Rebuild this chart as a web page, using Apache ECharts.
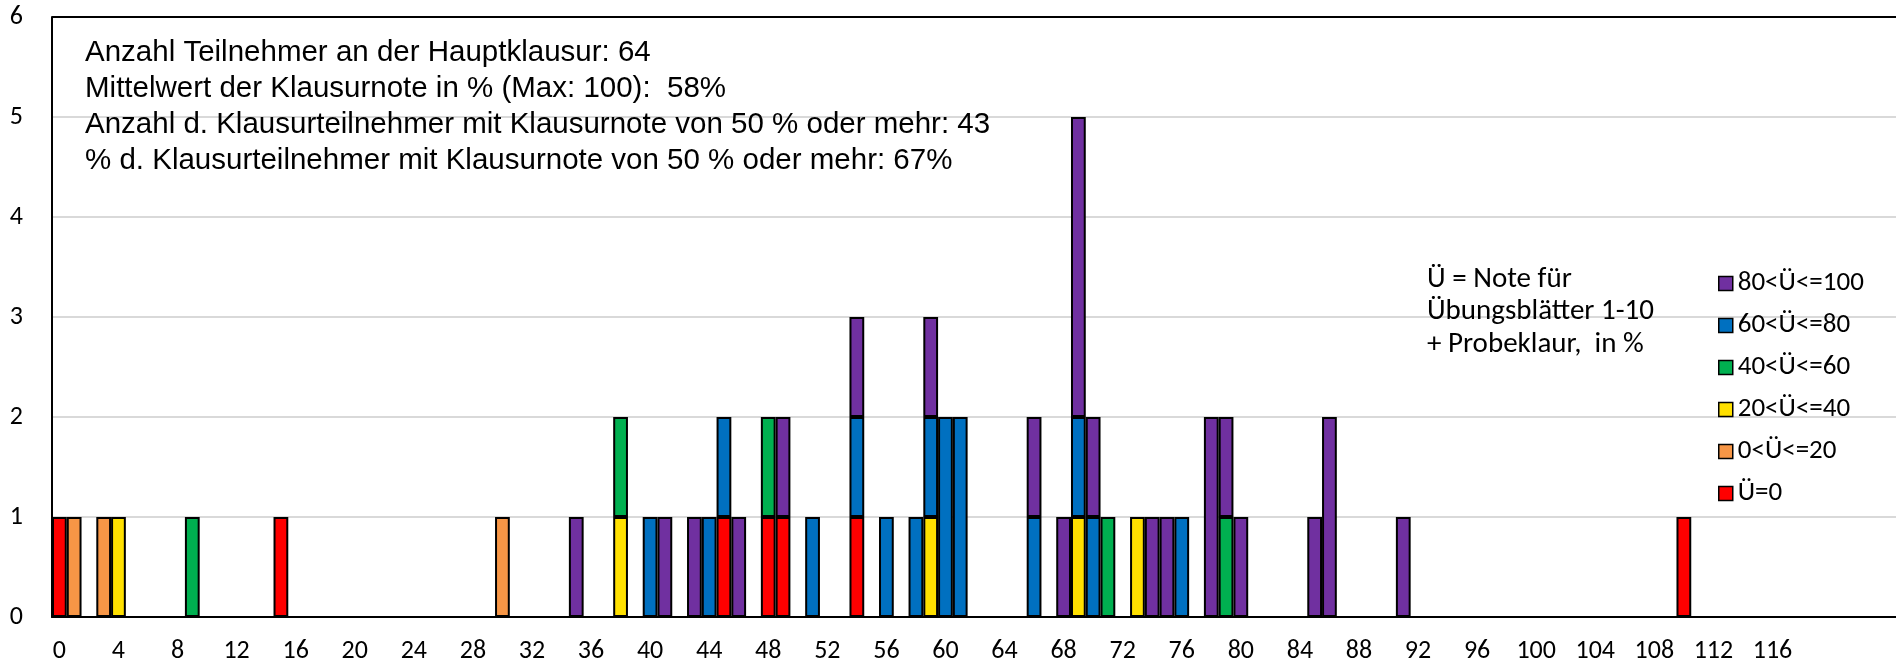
<!DOCTYPE html>
<html>
<head>
<meta charset="utf-8">
<script src="https://cdn.jsdelivr.net/npm/echarts@6/dist/echarts.min.js"></script>
<style>
html,body{margin:0;padding:0;background:#fff;}
#chart{width:1896px;height:670px;}
</style>
</head>
<body>
<div id="chart"></div>
<script>
// ---- data ----
const categoryCount = 125;            // x categories 0..124
const tickLabels = ["0","4","8","12","16","20","24","28","32","36","40","44","48","52","56","60","64","68","72","76","80","84","88","92","96","100","104","108","112","116"];
const yTicks = [0,1,2,3,4,5,6];

const seriesNames = ["Ü=0","0<Ü<=20","20<Ü<=40","40<Ü<=60","60<Ü<=80","80<Ü<=100"];
const seriesColors = ["#FF0000","#F79646","#FFE000","#00B050","#0070C0","#7030A0"];

// positions (x category) and counts for each series
const ue0_x   = [0,15,45,48,49,54,110];
const ue0_n   = [1,1,1,1,1,1,1];
const ue20_x  = [1,3,30];
const ue20_n  = [1,1,1];
const ue40_x  = [4,38,59,69,73];
const ue40_n  = [1,1,1,1,1];
const ue60_x  = [9,38,48,71,79];
const ue60_n  = [1,1,1,1,1];
const ue80_x  = [40,44,45,51,54,56,58,59,60,61,66,69,70,76];
const ue80_n  = [1,1,1,1,1,1,1,1,2,2,1,1,1,1];
const ue100_x = [35,41,43,46,49,54,59,66,68,69,70,74,75,78,79,80,85,86,91];
const ue100_n = [1,1,1,1,1,1,1,1,1,3,1,1,1,2,1,1,1,2,1];

const statLines = [
  "Anzahl Teilnehmer an der Hauptklausur: 64",
  "Mittelwert der Klausurnote in % (Max: 100):  58%",
  "Anzahl d. Klausurteilnehmer mit Klausurnote von 50 % oder mehr: 43",
  "% d. Klausurteilnehmer mit Klausurnote von 50 % oder mehr: 67%"
];
const noteLines = ["Ü = Note für","Übungsblätter 1-10","+ Probeklaur,  in %"];

// ---- build ----
const categories = Array.from({length: categoryCount}, (_, i) => String(i));
const tickSet = new Set(tickLabels);
function build(xs, ns) {
  const arr = categories.map(() => '-');
  xs.forEach((x, i) => { arr[x] = ns[i]; });
  return arr;
}
const seriesData = [
  build(ue0_x, ue0_n), build(ue20_x, ue20_n), build(ue40_x, ue40_n),
  build(ue60_x, ue60_n), build(ue80_x, ue80_n), build(ue100_x, ue100_n)
];

const chart = echarts.init(document.getElementById('chart'));
const calib = "Carlito, Lato, sans-serif";
chart.setOption({
  animation: false,
  backgroundColor: '#fff',
  grid: {
    left: 52, top: 17, width: 1846, height: 600,
    outerBoundsMode: 'none',
    containLabel: false,
    show: false
  },
  xAxis: {
    type: 'category',
    data: categories,
    boundaryGap: true,
    axisLine: { lineStyle: { color: '#000', width: 2 } },
    axisTick: { show: false },
    axisLabel: {
      interval: 0,
      margin: 21,
      color: '#000', fontSize: 26, fontFamily: calib,
      formatter: v => tickSet.has(v) ? v : ''
    },
    splitLine: { show: false }
  },
  yAxis: [{
    type: 'value',
    min: yTicks[0], max: yTicks[yTicks.length - 1], interval: 1,
    axisLine: { show: true, lineStyle: { color: '#000', width: 2 } },
    axisTick: { show: false },
    axisLabel: { color: '#000', fontSize: 26, fontFamily: calib, margin: 29 },
    splitLine: { lineStyle: { color: '#D9D9D9', width: 2 } }
  }],
  legend: {
    orient: 'vertical',
    left: 1713, top: 265,
    itemWidth: 14, itemHeight: 14,
    itemGap: 15,
    icon: 'rect',
    data: seriesNames.slice().reverse(),
    itemStyle: { borderColor: '#000', borderWidth: 1.5 },
    textStyle: { color: '#000', fontSize: 27, fontFamily: calib, lineHeight: 27 }
  },
  graphic: [
    {
      type: 'line', z: 5,
      shape: { x1: 52, y1: 17, x2: 1896, y2: 17 },
      style: { stroke: '#000', lineWidth: 2 }
    },
    {
      type: 'text', left: 85, top: 35, z: 10,
      style: { text: statLines.join('\n'), fill: '#000', font: '29.5px "Liberation Sans", Arial, sans-serif', lineHeight: 36 }
    },
    {
      type: 'text', left: 1427, top: 263, z: 10,
      style: { text: noteLines.join('\n'), fill: '#000', font: '29px Carlito, Lato, sans-serif', lineHeight: 32.5 }
    }
  ],
  series: seriesNames.map((name, i) => ({
    name: name,
    type: 'bar',
    stack: 'total',
    barWidth: '100%',
    data: seriesData[i],
    itemStyle: { color: seriesColors[i], borderColor: '#000', borderWidth: 2 }
  }))
});
</script>
</body>
</html>
